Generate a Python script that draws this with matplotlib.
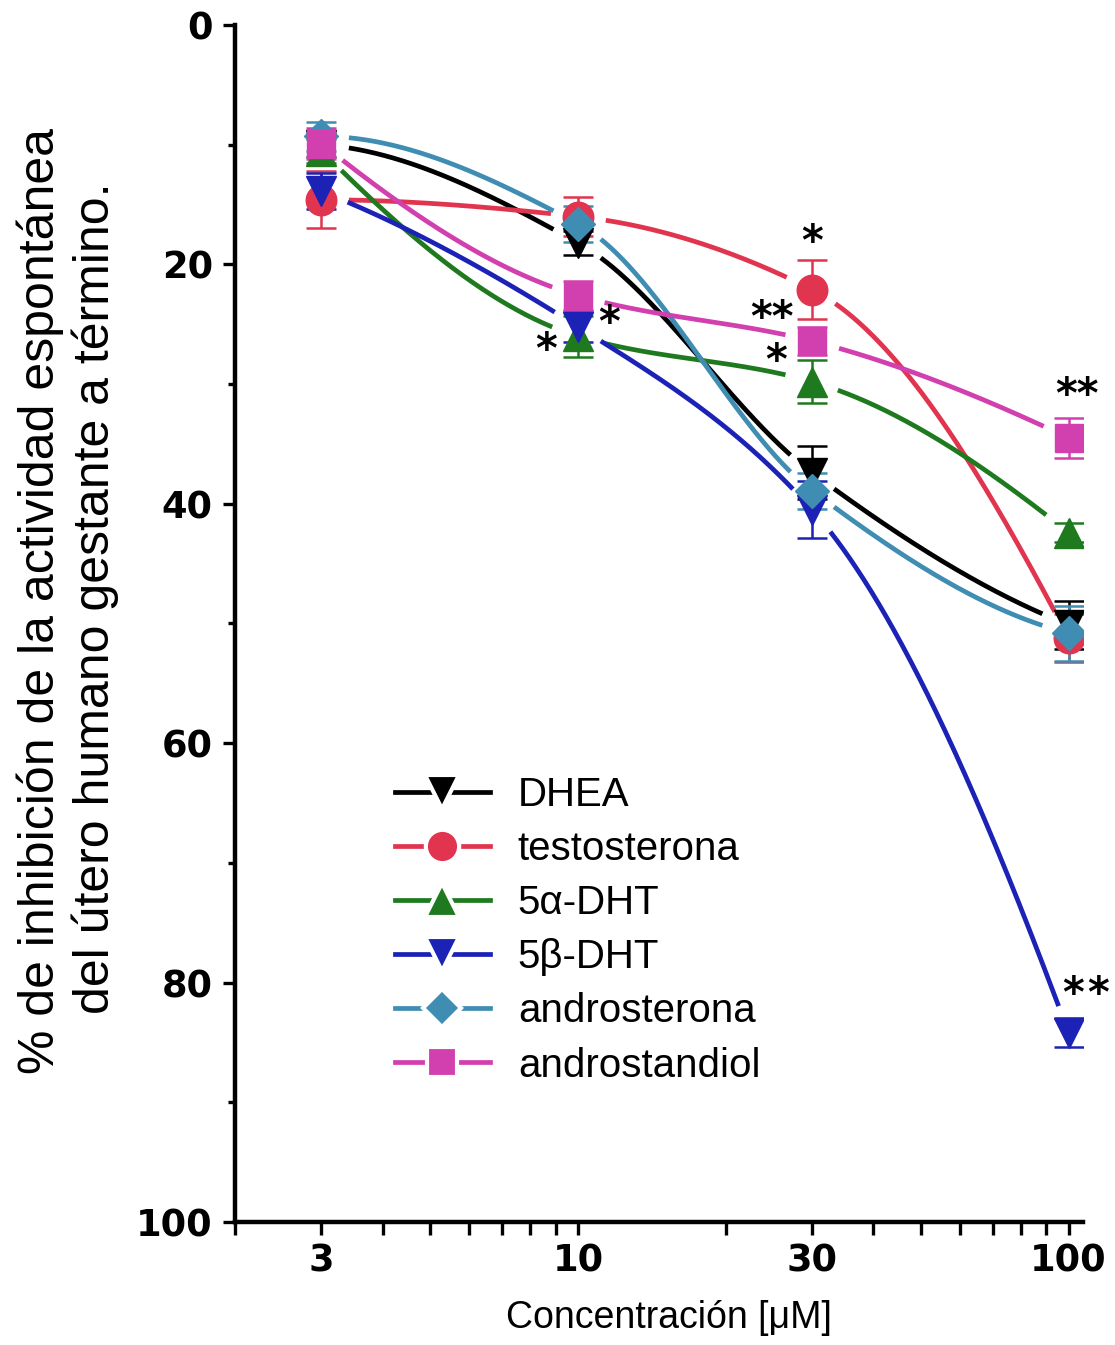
import numpy as np
import matplotlib
matplotlib.use("Agg")
import matplotlib.pyplot as plt
from matplotlib.lines import Line2D
from matplotlib.ticker import FixedLocator, NullFormatter

# ---------------- data ----------------
conc = [3, 10, 30, 100]
tick_labels = ["3", "10", "30", "100"]

dhea = [10.0, 18.2, 37.4, 50.1]
dhea_err = [1.0, 1.0, 2.2, 2.0]
testo = [14.6, 16.0, 22.1, 51.2]
testo_err = [2.4, 1.6, 2.5, 2.0]
dht5a = [10.5, 26.0, 29.8, 42.4]
dht5a_err = [1.0, 1.7, 1.8, 0.8]
dht5b = [13.9, 25.2, 40.5, 84.2]
dht5b_err = [1.5, 1.3, 2.4, 1.2]
andros = [9.3, 16.6, 38.9, 50.8]
andros_err = [1.2, 1.5, 1.5, 2.3]
androst = [9.9, 22.6, 26.4, 34.5]
androst_err = [1.3, 1.2, 1.2, 1.7]

names = ["DHEA", "testosterona", "5\u03b1-DHT", "5\u03b2-DHT", "androsterona", "androstandiol"]
colors = ["#000000", "#e0344f", "#1f7a1f", "#1b22b5", "#3f8db2", "#d23fae"]
markers = ["v", "o", "^", "v", "D", "s"]
msizes = [22, 22, 22, 22, 17, 20]

series = [dhea, testo, dht5a, dht5b, andros, androst]
errors = [dhea_err, testo_err, dht5a_err, dht5b_err, andros_err, androst_err]

# significance marks: (series index, point index, text, dx px, dy px)
stars = [(2, 1, "*", -32, 15), (3, 1, "*", 31, -3), (1, 2, "*", 0, -47),
         (5, 2, "**", -40, -22), (2, 2, "*", -36, -20), (5, 3, "**", 8, -42),
         (3, 3, "*", 4, -38), (3, 3, "*", 29, -38)]


def pchip(x, y, xn):
    x = np.asarray(x, float); y = np.asarray(y, float)
    h = np.diff(x); d = np.diff(y) / h
    n = len(x); m = np.zeros(n)
    for k in range(1, n - 1):
        if d[k - 1] * d[k] <= 0:
            m[k] = 0
        else:
            w1 = 2 * h[k] + h[k - 1]; w2 = h[k] + 2 * h[k - 1]
            m[k] = (w1 + w2) / (w1 / d[k - 1] + w2 / d[k])
    def endm(h0, h1, d0, d1):
        mm = ((2 * h0 + h1) * d0 - h0 * d1) / (h0 + h1)
        if np.sign(mm) != np.sign(d0):
            mm = 0
        elif np.sign(d0) != np.sign(d1) and abs(mm) > 3 * abs(d0):
            mm = 3 * d0
        return mm
    m[0] = endm(h[0], h[1], d[0], d[1])
    m[-1] = endm(h[-1], h[-2], d[-1], d[-2])
    idx = np.clip(np.searchsorted(x, xn) - 1, 0, n - 2)
    t = (xn - x[idx]) / h[idx]
    h00 = 2 * t**3 - 3 * t**2 + 1; h10 = t**3 - 2 * t**2 + t
    h01 = -2 * t**3 + 3 * t**2; h11 = t**3 - t**2
    return (h00 * y[idx] + h10 * h[idx] * m[idx] + h01 * y[idx + 1] + h11 * h[idx] * m[idx + 1])


plt.rcParams["font.family"] = ["Liberation Sans", "DejaVu Sans"]

fig = plt.figure(figsize=(11.15, 13.45), dpi=100)
ax = fig.add_axes([0.2108, 0.0915, 0.7605, 0.8899])
ax.set_xscale("log")
ax.set_xlim(2, 107)
ax.set_ylim(100, 0)

ax.xaxis.set_major_locator(FixedLocator(conc))
ax.set_xticklabels(tick_labels)
ax.xaxis.set_minor_locator(FixedLocator([2, 4, 5, 6, 7, 8, 9, 20, 40, 50, 60, 70, 80, 90]))
ax.xaxis.set_minor_formatter(NullFormatter())
ax.set_yticks([0, 20, 40, 60, 80, 100])
ax.yaxis.set_minor_locator(FixedLocator([10, 30, 50, 70, 90]))

for s in ["top", "right"]:
    ax.spines[s].set_visible(False)
for s in ["left", "bottom"]:
    ax.spines[s].set_linewidth(3.2)

ax.tick_params(axis="x", which="both", length=9, width=2.4, direction="out", pad=6)
ax.tick_params(axis="y", which="major", length=9, width=2.4, direction="out", pad=7)
ax.tick_params(axis="y", which="minor", length=5, width=2.4, direction="out")
for lab in ax.get_xticklabels() + ax.get_yticklabels():
    lab.set_fontfamily("DejaVu Sans")
    lab.set_fontweight("heavy")
    lab.set_fontsize(26.5)

fig.canvas.draw()
logc = np.log10(conc)
xs = np.logspace(np.log10(3), np.log10(100), 600)
gap = 27.0
for vals, c in zip(series, colors):
    ys = pchip(logc, vals, np.log10(xs))
    disp = ax.transData.transform(np.column_stack([xs, ys]))
    pts = ax.transData.transform(np.column_stack([conc, vals]))
    dist = np.min(np.hypot(disp[:, None, 0] - pts[None, :, 0], disp[:, None, 1] - pts[None, :, 1]), axis=1)
    ys = np.where(dist < gap, np.nan, ys)
    ax.plot(xs, ys, color=c, lw=3.4, solid_capstyle="butt", zorder=2)

for vals, err, c, m, ms in zip(series, errors, colors, markers, msizes):
    ax.errorbar(conc, vals, yerr=err, fmt="none", ecolor=c, elinewidth=1.8,
                capsize=11, capthick=1.8, zorder=3)
    ax.plot(conc, vals, ls="none", marker=m, ms=ms, color=c, mec=c, zorder=4)

for si, pi, txt, dx, dy in stars:
    ax.annotate(txt, xy=(conc[pi], series[si][pi]), xytext=(dx * 0.72, -dy * 0.72),
                textcoords="offset points", ha="center", va="center",
                fontsize=30, fontweight="bold", family="DejaVu Sans",
                annotation_clip=False, zorder=5)

handles = [Line2D([], [], color=c, lw=3.4, marker=m, ms=ms + 2, mfc=c, mec="white", mew=3)
           for c, m, ms in zip(colors, markers, msizes)]
fig.legend(handles, names, loc="upper left", bbox_to_anchor=(395 / 1115, 1 - 776 / 1345),
           frameon=False, fontsize=29, handlelength=2.35, handletextpad=0.7,
           labelspacing=0.4, borderpad=0, borderaxespad=0)

fig.text(40 / 1115, 1 - 601 / 1345, "% de inhibición de la actividad espontánea",
         rotation=90, ha="center", va="center", fontsize=36)
fig.text(95 / 1115, 1 - 598 / 1345, "del útero humano gestante a término.",
         rotation=90, ha="center", va="center", fontsize=36)
fig.text(669 / 1115, 1 - 1318 / 1345, "Concentración [\u03bcM]", ha="center", va="center",
         fontsize=27)

fig.savefig("out.png", dpi=100)
